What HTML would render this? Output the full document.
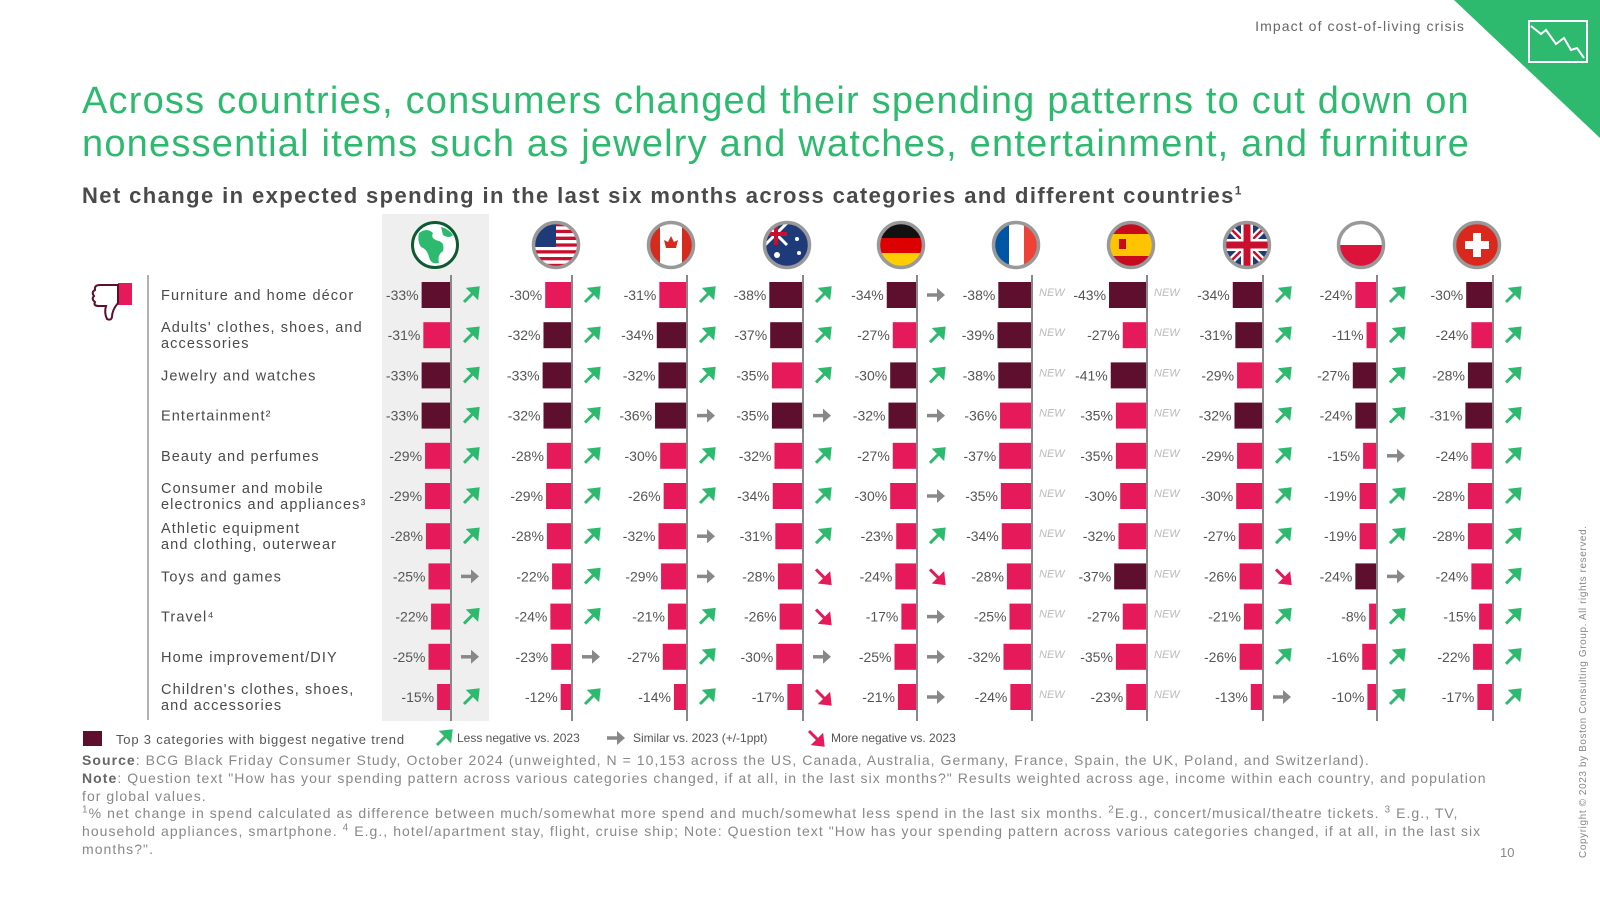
<!DOCTYPE html>
<html><head><meta charset="utf-8"><style>
html,body{margin:0;padding:0;background:#fff;}
body{width:1600px;height:900px;overflow:hidden;position:relative;font-family:"Liberation Sans",sans-serif;}
.t{position:absolute;white-space:nowrap;}
sup{line-height:0;font-size:10px;}
</style></head><body>
<div class="t" style="right:135px;top:18px;font-size:14px;color:#666;letter-spacing:1.1px;">Impact of cost-of-living crisis</div>
<svg style="position:absolute;left:0;top:0" width="1600" height="900">
<polygon points="1454,0 1600,0 1600,138" fill="#2dba6f"/>
<rect x="1529" y="21" width="58" height="41" fill="none" stroke="#fff" stroke-width="2"/>
<polyline points="1531,26 1541,34 1546,30 1556,44 1564,38 1571,50 1577,48 1584,58" fill="none" stroke="#fff" stroke-width="2"/>
</svg>
<div class="t" style="left:82px;top:80px;font-size:38px;line-height:43px;color:#2dba6f;letter-spacing:1.2px;">Across countries, consumers changed their spending patterns to cut down on<br>nonessential items such as jewelry and watches, entertainment, and furniture</div>
<div class="t" style="left:82px;top:183px;font-size:22px;font-weight:bold;color:#4a4a4a;letter-spacing:1.4px;">Net change in expected spending in the last six months across categories and different countries<sup style="font-size:12px">1</sup></div>

<svg id="chart" style="position:absolute;left:0;top:0" width="1600" height="900"></svg>

<div class="t" style="left:83px;top:731px;font-size:13px;color:#555;letter-spacing:0.8px;"><span style="display:inline-block;width:19px;height:15px;background:#5e0f2d;vertical-align:-2px;margin-right:14px"></span>Top 3 categories with biggest negative trend</div>
<div class="t" style="left:457px;top:731px;font-size:12px;color:#555;">Less negative vs. 2023</div>
<div class="t" style="left:633px;top:731px;font-size:12px;color:#555;">Similar vs. 2023 (+/-1ppt)</div>
<div class="t" style="left:831px;top:731px;font-size:12px;color:#555;">More negative vs. 2023</div>

<div class="t" style="left:82px;top:752px;font-size:14px;line-height:17.8px;color:#888;letter-spacing:1.05px;white-space:normal;width:1405px;">
<b style="color:#666">Source</b>: BCG Black Friday Consumer Study, October 2024 (unweighted, N = 10,153 across the US, Canada, Australia, Germany, France, Spain, the UK, Poland, and Switzerland).<br>
<b style="color:#666">Note</b>: Question text "How has your spending pattern across various categories changed, if at all, in the last six months?" Results weighted across age, income within each country, and population for global values.<br>
<sup>1</sup>% net change in spend calculated as difference between much/somewhat more spend and much/somewhat less spend in the last six months. <sup>2</sup>E.g., concert/musical/theatre tickets. <sup>3</sup> E.g., TV, household appliances, smartphone. <sup>4</sup> E.g., hotel/apartment stay, flight, cruise ship; Note: Question text "How has your spending pattern across various categories changed, if at all, in the last six months?".</div>
<div class="t" style="left:1500px;top:845px;font-size:13px;color:#888;">10</div>
<div class="t" style="left:1578px;top:858px;font-size:10px;color:#888;letter-spacing:0.6px;transform:rotate(-90deg);transform-origin:0 0;">Copyright © 2023 by Boston Consulting Group. All rights reserved.</div>

<script>
const categories=["Furniture and home décor","Adults' clothes, shoes, and|accessories","Jewelry and watches","Entertainment²","Beauty and perfumes","Consumer and mobile|electronics and appliances³","Athletic equipment|and clothing, outerwear","Toys and games","Travel⁴","Home improvement/DIY","Children's clothes, shoes,|and accessories"];
const countries=["global","us","ca","au","de","fr","es","uk","pl","ch"];
const vGlobal=[-33,-31,-33,-33,-29,-29,-28,-25,-22,-25,-15];
const vUS=[-30,-32,-33,-32,-28,-29,-28,-22,-24,-23,-12];
const vCA=[-31,-34,-32,-36,-30,-26,-32,-29,-21,-27,-14];
const vAU=[-38,-37,-35,-35,-32,-34,-31,-28,-26,-30,-17];
const vDE=[-34,-27,-30,-32,-27,-30,-23,-24,-17,-25,-21];
const vFR=[-38,-39,-38,-36,-37,-35,-34,-28,-25,-32,-24];
const vES=[-43,-27,-41,-35,-35,-30,-32,-37,-27,-35,-23];
const vUK=[-34,-31,-29,-32,-29,-30,-27,-26,-21,-26,-13];
const vPL=[-24,-11,-27,-24,-15,-19,-19,-24,-8,-16,-10];
const vCH=[-30,-24,-28,-31,-24,-28,-28,-24,-15,-22,-17];
const values=[vGlobal,vUS,vCA,vAU,vDE,vFR,vES,vUK,vPL,vCH];
const top3=[[0,2,3],[1,2,3],[1,2,3],[0,1,3],[0,2,3],[0,1,2],[0,2,7],[0,1,3],[2,3,7],[0,2,3]];
const trends=["UUUUUUUSUSU","UUUUUUUUUSU","UUUSUUSSUUU","UUUSUUUDDSD","SUUSUSUDSSS","NNNNNNNNNNN","NNNNNNNNNNN","UUUUUUUDUUS","UUUUSUUSUUU","UUUUUUUUUUU"];
const axisX=[451,572,687,803,917,1032,1147,1263,1377,1493];
const NS="http://www.w3.org/2000/svg";
const svg=document.getElementById('chart');
const PX=0.86, Y0=295, DY=40.2, BH=26;
const xLen=v=>Math.abs(v)*PX;
const yRow=i=>Y0+i*DY;
function mk(tag,attrs,parent){const e=document.createElementNS(NS,tag);for(const k in attrs)e.setAttribute(k,attrs[k]);(parent||svg).appendChild(e);return e;}
let bg=mk('rect',{x:382,y:214,width:107,height:507,fill:'#efefef'});


let sep=mk('line',{x1:148,y1:275,x2:148,y2:720,stroke:'#999','stroke-width':1.5});


let th=mk('g',{transform:'translate(90,283)'});


mk('rect',{x:28,y:0,width:14,height:22,fill:'#e6195a'},th);
mk('path',{d:'M28,2 L10,2 Q4,2 5,7 Q1,9 4,13 Q1,16 5,19 Q3,23 9,23 L16,23 Q14,30 17,36 Q21,38 22,34 Q22,27 28,20 Z',fill:'none',stroke:'#5e0f2d','stroke-width':2},th);
categories.forEach((c,i)=>{
  const parts=c.split('|');
  const t=mk('text',{x:161,y:parts.length>1?yRow(i)-3:yRow(i)+5,'font-size':14.5,fill:'#4a4a4a','letter-spacing':'1.1'});
  
  
  parts.forEach((p,j)=>{const s=mk('tspan',{x:161,dy:j?16:0},t);s.textContent=p;});
});
function arrow(kind,cx,cy,g){
  if(kind==='U'){mk('path',{d:`M${cx-6},${cy+7} L${cx+3},${cy-2} L${cx-1},${cy-6} L${cx+8},${cy-7} L${cx+7},${cy+2} L${cx+3},${cy-2}`,fill:'#2dba6f',stroke:'#2dba6f','stroke-width':3,'stroke-linejoin':'miter'},g);}
  else if(kind==='S'){mk('path',{d:`M${cx-9},${cy} L${cx+3},${cy}`,stroke:'#888','stroke-width':3.5},g);mk('path',{d:`M${cx+1},${cy-7} L${cx+9},${cy} L${cx+1},${cy+7} Z`,fill:'#888'},g);}
  else if(kind==='D'){mk('path',{d:`M${cx-6},${cy-7} L${cx+3},${cy+2} L${cx-1},${cy+6} L${cx+8},${cy+7} L${cx+7},${cy-2} L${cx+3},${cy+2}`,fill:'#e6195a',stroke:'#e6195a','stroke-width':3},g);}
  else {const t=mk('text',{x:cx-12,y:cy+1,'font-size':11,'font-style':'italic',fill:'#bbb'},g);t.textContent='NEW';}
}
function flag(k,cx,cy){
  const g=mk('g',{});
  
  
  const id='clip'+k;
  const cp=mk('clipPath',{id:id},g);mk('circle',{cx:cx,cy:cy,r:22},cp);
  const f=mk('g',{'clip-path':`url(#${id})`},g);
  const R=(x,y,w,h,c)=>mk('rect',{x:cx+x,y:cy+y,width:w,height:h,fill:c},f);
  if(k==='global'){R(-22,-22,44,44,'#fff');mk('path',{d:`M${cx-16},${cy-12} q8,-6 14,0 q-3,6 6,8 q6,2 4,10 q-6,4 -4,12 q-8,2 -10,-6 q-2,-8 -8,-10 q-4,-6 -2,-14 z M${cx+6},${cy-18} q8,2 12,8 q-4,4 -10,0 z`,fill:'#2dba6f'},f);}
  else if(k==='us'){for(let s=0;s<13;s++)R(-22,-22+s*3.4,44,3.4,s%2?'#fff':'#c8102e');R(-22,-22,22,24,'#1f3a78');}
  else if(k==='ca'){R(-22,-22,44,44,'#fff');R(-22,-22,11,44,'#d52b1e');R(11,-22,11,44,'#d52b1e');mk('path',{d:`M${cx},${cy-9} l3,6 4,-2 -2,8 -5,0 0,5 -0,-5 -5,0 -2,-8 4,2 z`,fill:'#d52b1e'},f);}
  else if(k==='au'){R(-22,-22,44,44,'#1f3a78');mk('path',{d:`M${cx-22},${cy-22} l22,22 M${cx},${cy-22} l-22,22`,stroke:'#fff','stroke-width':3},f);R(-22,-13,22,4,'#c8102e');R(-13,-22,4,22,'#c8102e');mk('circle',{cx:cx-10,cy:cy+10,r:3,fill:'#fff'},f);mk('circle',{cx:cx+10,cy:cy-6,r:2,fill:'#fff'},f);mk('circle',{cx:cx+12,cy:cy+8,r:2,fill:'#fff'},f);}
  else if(k==='de'){R(-22,-22,44,15,'#111');R(-22,-7,44,15,'#dd0000');R(-22,8,44,15,'#ffce00');}
  else if(k==='fr'){R(-22,-22,15,44,'#0055a4');R(-7,-22,15,44,'#fff');R(8,-22,15,44,'#ef4135');}
  else if(k==='es'){R(-22,-22,44,44,'#c60b1e');R(-22,-11,44,22,'#ffc400');R(-12,-6,7,10,'#c60b1e');}
  else if(k==='uk'){R(-22,-22,44,44,'#1f3a78');mk('path',{d:`M${cx-22},${cy-22} L${cx+22},${cy+22} M${cx+22},${cy-22} L${cx-22},${cy+22}`,stroke:'#fff','stroke-width':7},f);mk('path',{d:`M${cx-22},${cy-22} L${cx+22},${cy+22} M${cx+22},${cy-22} L${cx-22},${cy+22}`,stroke:'#c8102e','stroke-width':2.5},f);R(-22,-6,44,12,'#fff');R(-6,-22,12,44,'#fff');R(-22,-3.5,44,7,'#c8102e');R(-3.5,-22,7,44,'#c8102e');}
  else if(k==='pl'){R(-22,-22,44,22,'#fff');R(-22,0,44,22,'#dc143c');}
  else if(k==='ch'){R(-22,-22,44,44,'#da291c');R(-12,-4,24,8,'#fff');R(-4,-12,8,24,'#fff');}
  mk('circle',{cx:cx,cy:cy,r:22.5,fill:'none',stroke:k==='global'?'#0d5a33':'#999','stroke-width':k==='global'?3:3.5},g);
}
countries.forEach((k,ci)=>{
  const ax=axisX[ci];
  flag(k,ax-16,245);
  const al=mk('line',{x1:ax,y1:275,x2:ax,y2:721,stroke:'#888','stroke-width':2});
  
  
  values[ci].forEach((v,ri)=>{
    const w=xLen(v), y=yRow(ri);
    const b=mk('rect',{x:ax-1-w,y:y-BH/2,width:w,height:BH,fill:top3[ci].includes(ri)?'#5e0f2d':'#e6195a'});
    
    
    const t=mk('text',{x:ax-w-4,y:y+5,'font-size':14,fill:'#555','text-anchor':'end'});
    
    
    t.textContent=v+'%';
    const g=mk('g',{});
    
    
    arrow(trends[ci][ri],ax+19,y,g);
  });
});
arrow('U',443,738,svg);arrow('S',616,738,svg);arrow('D',815,738,svg);
</script>
</body></html>
